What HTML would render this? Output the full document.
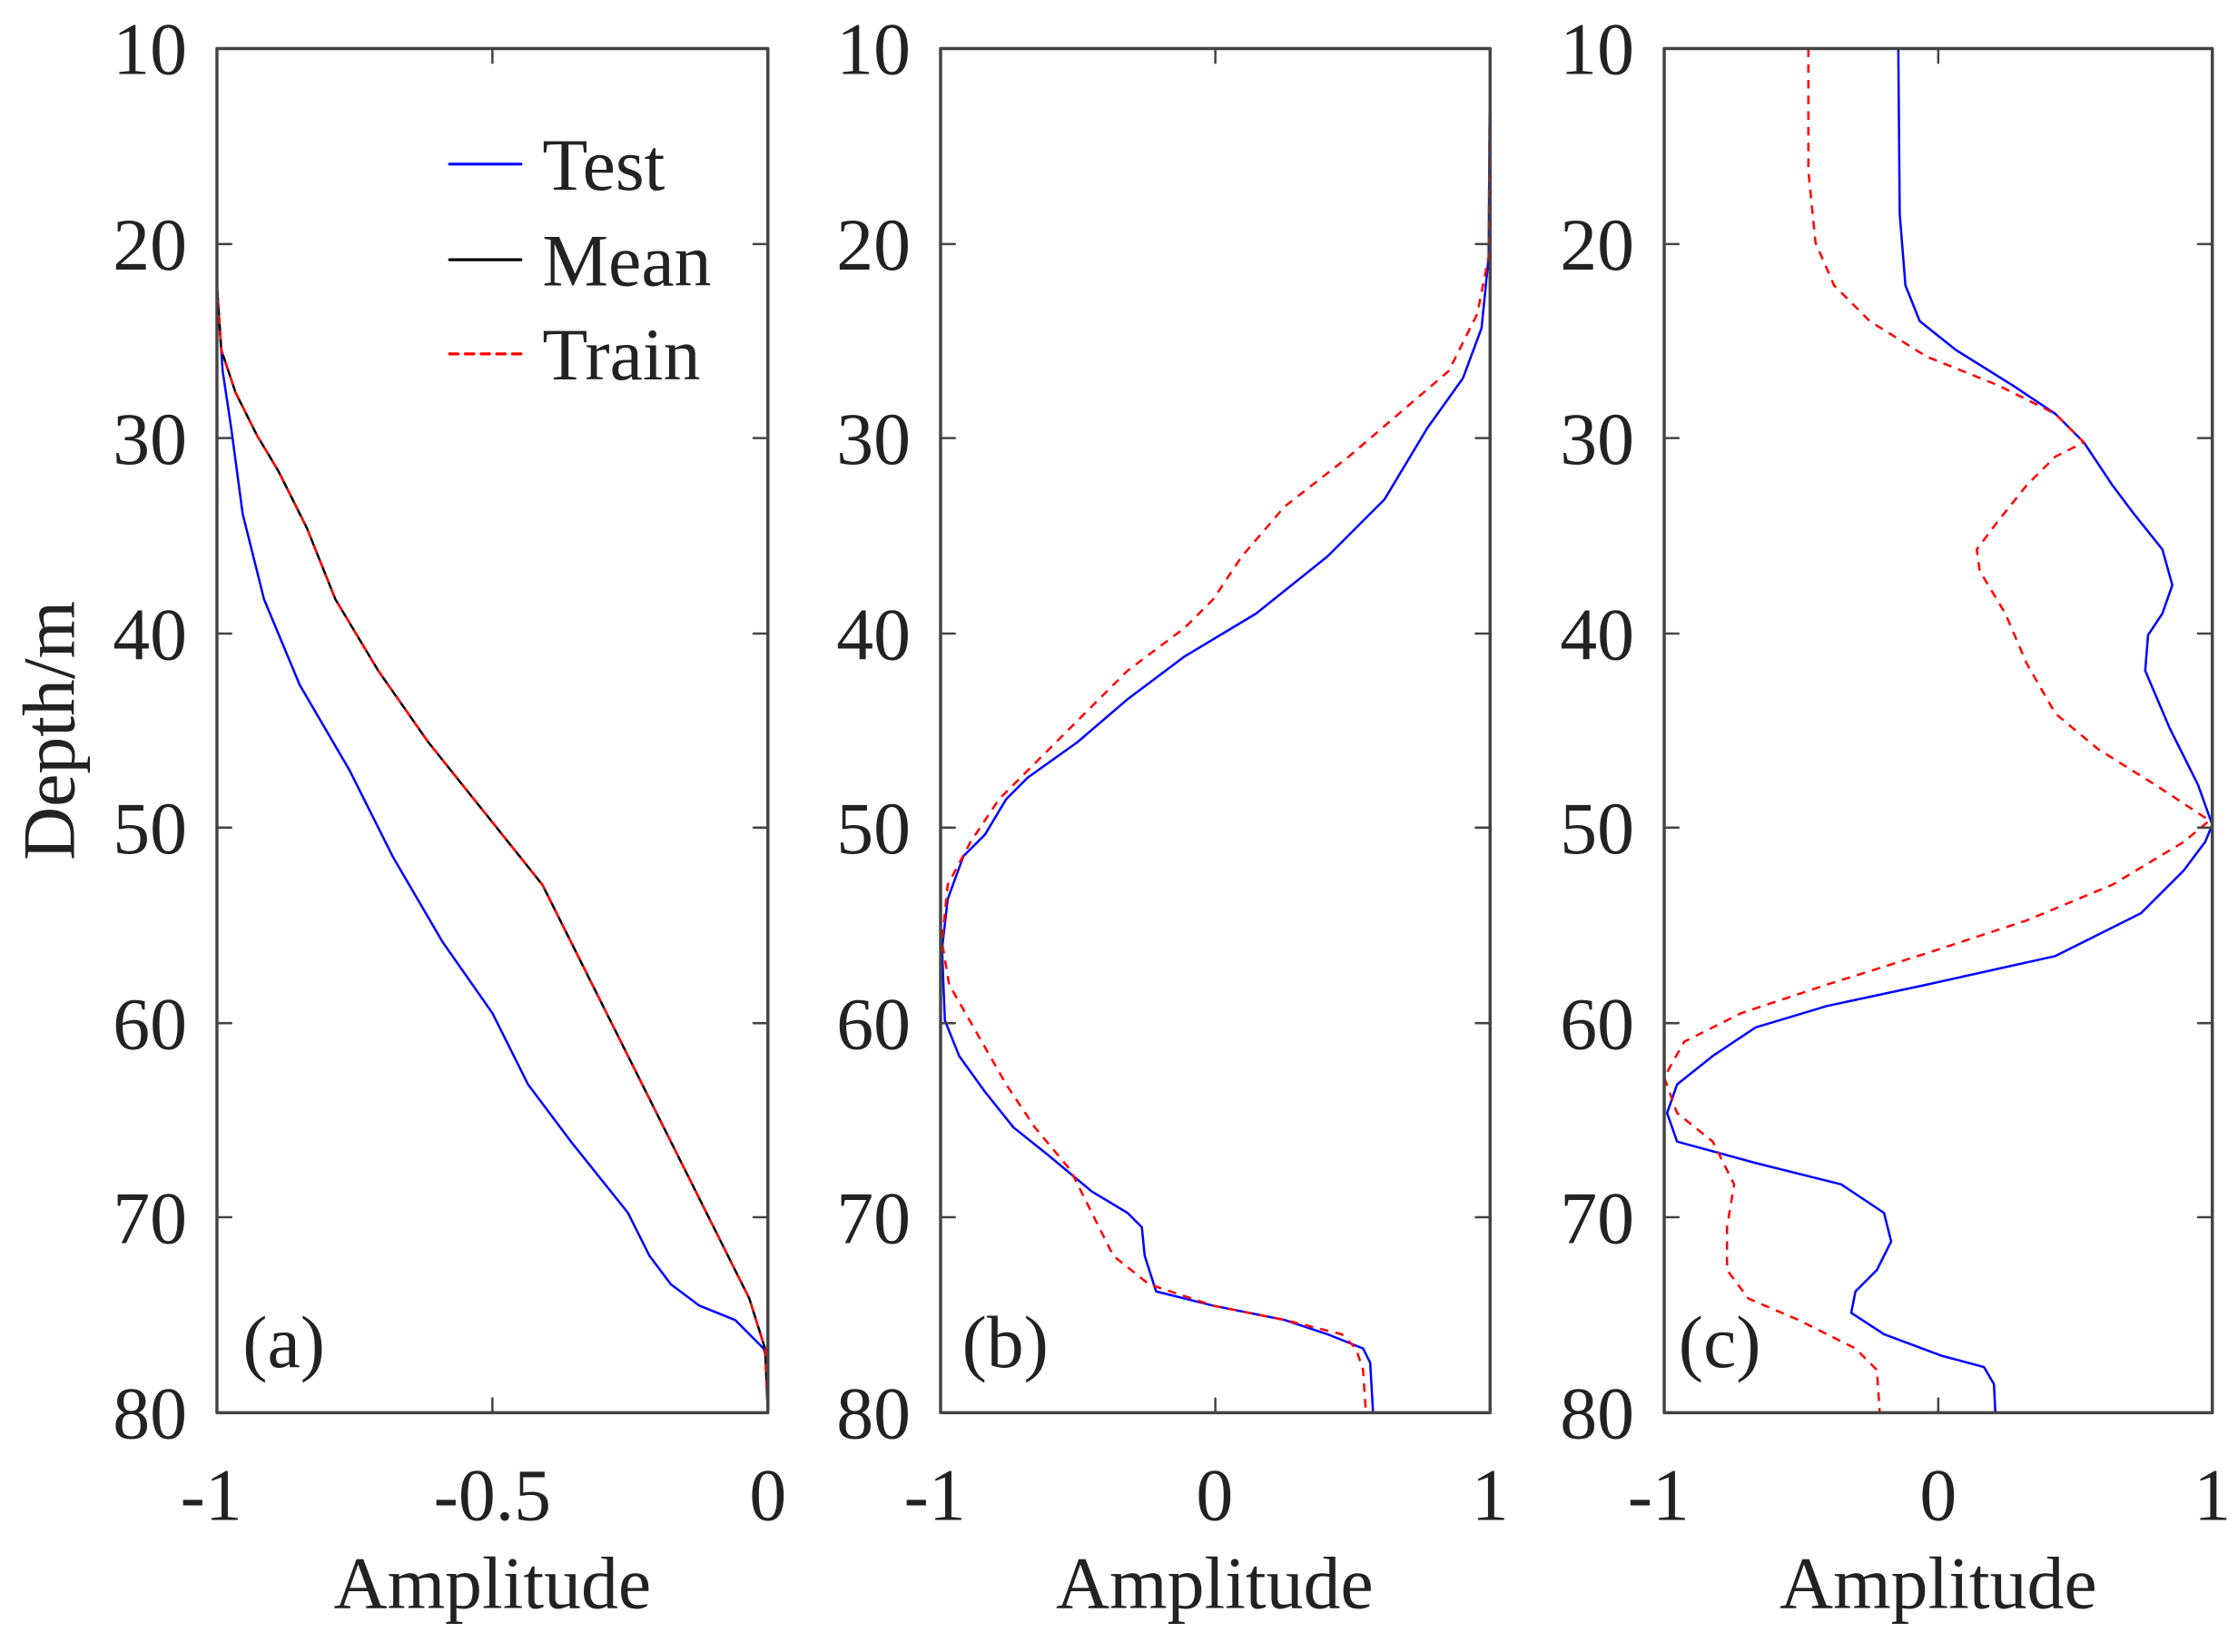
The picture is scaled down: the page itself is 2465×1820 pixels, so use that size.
<!DOCTYPE html>
<html><head><meta charset="utf-8"><style>html,body{margin:0;padding:0;background:#fff}svg{display:block}</style></head>
<body>
<svg width="2465" height="1820" viewBox="0 0 1568 1157.7" xmlns="http://www.w3.org/2000/svg" font-family="'Liberation Serif',serif" fill="#222">
<rect width="1568" height="1158" fill="#fff"/>
<g fill="none" stroke-linejoin="round" stroke-linecap="round">
<polyline stroke="#0000ff" stroke-width="1.6" points="152,34 152,200 156,260 162,300 170,360 185,420 210,480 245,540 275,600 310,660 345,710 370,760 400,800 440,850 455,880 470,900 490,915 515,925 535,945 538,955"/>
<polyline stroke="#000" stroke-width="1.6" points="152,34 152,200 155,245 165,275 180,305 195,330 215,370 235,420 265,470 300,520 340,570 380,620 410,680 440,740 470,800 500,860 525,910 536,945 538,990"/>
<polyline stroke="#ff0000" stroke-width="1.6" stroke-dasharray="6,5" stroke-linecap="butt" points="152,34 152,200 155,245 165,275 180,305 195,330 215,370 235,420 265,470 300,520 340,570 380,620 410,680 440,740 470,800 500,860 525,910 536,945 538,990"/>
<polyline stroke="#0000ff" stroke-width="1.6" points="1044,34 1043,180 1038,230 1025,265 1000,300 970,350 930,390 880,430 830,460 790,490 755,520 720,545 705,560 690,585 675,600 664,630 660,665 662,715 672,740 690,765 710,790 735,810 765,835 790,850 800,860 802,880 810,905 850,915 900,925 930,935 955,945 960,955 962,990"/>
<polyline stroke="#ff0000" stroke-width="1.6" stroke-dasharray="6,5" stroke-linecap="butt" points="1044,34 1043,180 1035,220 1015,260 980,290 945,320 900,355 870,390 850,420 830,440 790,470 760,500 730,530 700,560 680,590 664,620 660,660 665,690 685,725 705,760 725,790 750,820 770,860 780,880 805,900 850,915 900,925 940,935 950,945 955,960 957,990"/>
<polyline stroke="#0000ff" stroke-width="1.6" points="1330,34 1331,150 1335,200 1345,225 1370,245 1410,270 1440,290 1460,310 1480,340 1495,360 1515,385 1522,410 1515,430 1505,445 1503,470 1520,510 1540,550 1550,578 1545,590 1530,610 1500,640 1440,670 1350,690 1280,705 1230,720 1200,740 1175,760 1168,780 1175,800 1230,815 1290,830 1320,850 1325,870 1315,890 1300,905 1297,920 1320,935 1360,950 1390,958 1397,970 1398,990"/>
<polyline stroke="#ff0000" stroke-width="1.6" stroke-dasharray="6,5" stroke-linecap="butt" points="1267,34 1267,120 1272,170 1285,200 1310,225 1350,250 1400,270 1440,290 1460,310 1440,320 1420,340 1400,365 1385,385 1387,400 1405,430 1420,465 1440,500 1470,525 1510,550 1548,575 1530,590 1480,620 1420,645 1350,668 1280,690 1220,710 1180,730 1166,755 1175,780 1200,800 1215,830 1210,860 1210,890 1225,910 1260,925 1300,945 1315,960 1317,990"/>
<g stroke="#444" stroke-width="2.2">
<rect x="152" y="34" width="386" height="956"/>
<rect x="659" y="34" width="385" height="956"/>
<rect x="1166" y="34" width="384" height="956"/>
</g>
<g stroke="#444" stroke-width="1.6">
<path d="M345,34v10M345,990v-10M851.5,34v10M851.5,990v-10M1358,34v10M1358,990v-10"/>
<path d="M152,171h10M152,307h10M152,444h10M152,580h10M152,717h10M152,853h10M538,171h-10M538,307h-10M538,444h-10M538,580h-10M538,717h-10M538,853h-10"/>
<path d="M659,171h10M659,307h10M659,444h10M659,580h10M659,717h10M659,853h10M1044,171h-10M1044,307h-10M1044,444h-10M1044,580h-10M1044,717h-10M1044,853h-10"/>
<path d="M1166,171h10M1166,307h10M1166,444h10M1166,580h10M1166,717h10M1166,853h10M1550,171h-10M1550,307h-10M1550,444h-10M1550,580h-10M1550,717h-10M1550,853h-10"/>
</g>
<line x1="315" y1="115" x2="365" y2="115" stroke="#0000ff" stroke-width="2"/>
<line x1="315" y1="182" x2="365" y2="182" stroke="#000" stroke-width="2"/>
<line x1="315" y1="248" x2="365" y2="248" stroke="#ff0000" stroke-width="2" stroke-dasharray="6,5"/>
</g>
<g font-size="52">
<text x="380" y="133">Test</text>
<text x="380" y="200">Mean</text>
<text x="380" y="266">Train</text>
<text x="170" y="958">(a)</text>
<text x="674" y="958">(b)</text>
<text x="1176" y="958">(c)</text>
</g>
<g font-size="52" text-anchor="end">
<text x="131" y="52">10</text><text x="131" y="189">20</text><text x="131" y="325">30</text><text x="131" y="462">40</text><text x="131" y="598">50</text><text x="131" y="735">60</text><text x="131" y="871">70</text><text x="131" y="1008">80</text>
<text x="638" y="52">10</text><text x="638" y="189">20</text><text x="638" y="325">30</text><text x="638" y="462">40</text><text x="638" y="598">50</text><text x="638" y="735">60</text><text x="638" y="871">70</text><text x="638" y="1008">80</text>
<text x="1145" y="52">10</text><text x="1145" y="189">20</text><text x="1145" y="325">30</text><text x="1145" y="462">40</text><text x="1145" y="598">50</text><text x="1145" y="735">60</text><text x="1145" y="871">70</text><text x="1145" y="1008">80</text>
</g>
<g font-size="52" text-anchor="middle">
<text x="148" y="1065">-1</text><text x="345" y="1065">-0.5</text><text x="538" y="1065">0</text>
<text x="655" y="1065">-1</text><text x="851" y="1065">0</text><text x="1044" y="1065">1</text>
<text x="1162" y="1065">-1</text><text x="1358" y="1065">0</text><text x="1550" y="1065">1</text>
<text x="345" y="1127">Amplitude</text><text x="851" y="1127">Amplitude</text><text x="1358" y="1127">Amplitude</text>
<text transform="translate(52,512) rotate(-90)">Depth/m</text>
</g>
</svg>
</body></html>
